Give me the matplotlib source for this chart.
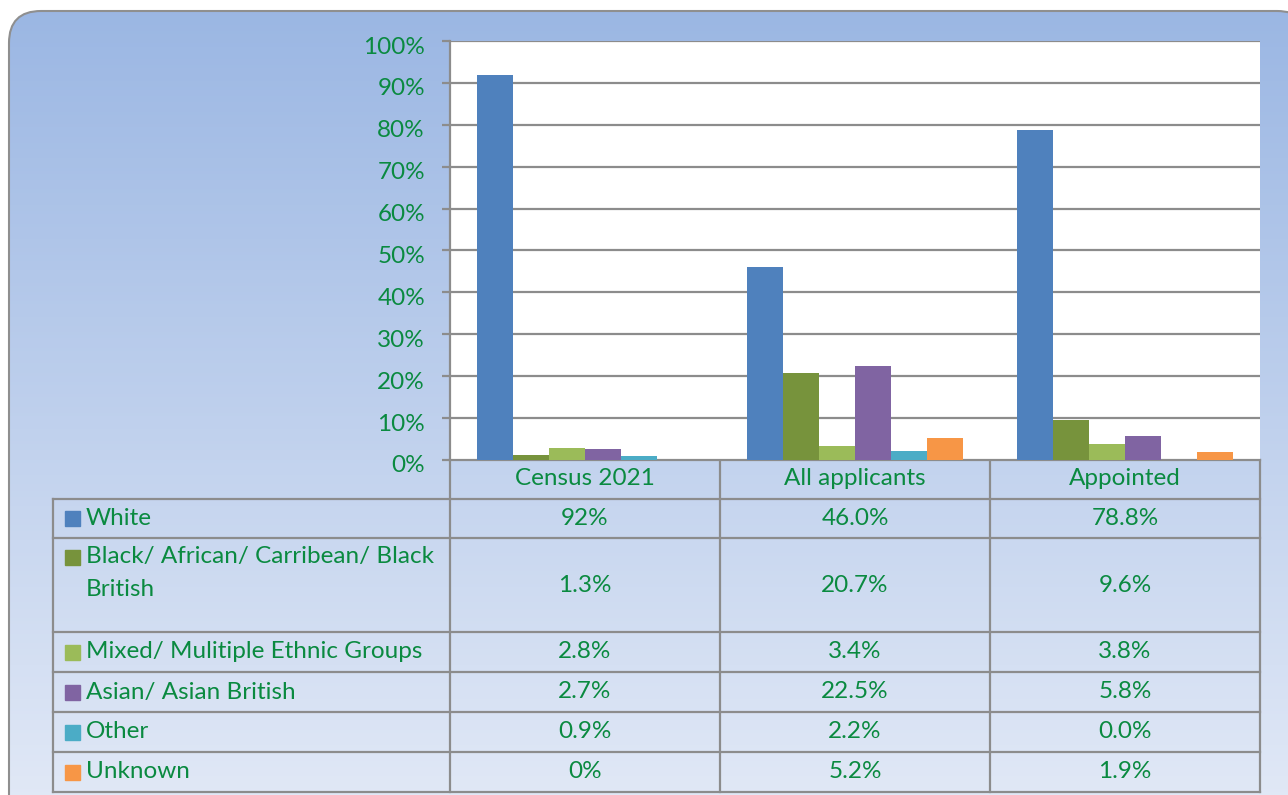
import numpy as np
import matplotlib
matplotlib.use("Agg")
from matplotlib import pyplot as plt
from matplotlib.patches import FancyBboxPatch, Rectangle
from matplotlib.ticker import FuncFormatter
from matplotlib.transforms import ScaledTranslation

plt.rcParams['font.family'] = ['Lato', 'DejaVu Sans']

groups = ['Census 2021', 'All applicants', 'Appointed']
series = ['White', 'Black/ African/ Carribean/ Black\nBritish',
          'Mixed/ Mulitiple Ethnic Groups', 'Asian/ Asian British',
          'Other', 'Unknown']
colors = ['#4F81BD', '#77933C', '#9BBB59', '#8064A2', '#4BACC6', '#F79646']

white = [92, 46.0, 78.8]
black = [1.3, 20.7, 9.6]
mixed = [2.8, 3.4, 3.8]
asian = [2.7, 22.5, 5.8]
other = [0.9, 2.2, 0.0]
unknown = [0, 5.2, 1.9]
values = [white, black, mixed, asian, other, unknown]

cell_text = [['92%', '46.0%', '78.8%'],
             ['1.3%', '20.7%', '9.6%'],
             ['2.8%', '3.4%', '3.8%'],
             ['2.7%', '22.5%', '5.8%'],
             ['0.9%', '2.2%', '0.0%'],
             ['0%', '5.2%', '1.9%']]

green = '#0A8A40'
grey = '#8C8C8C'
W, H = 1288, 795

fig = plt.figure(figsize=(W / 100, H / 100), dpi=100)

# background panel, drawn in pixel coordinates
bg = fig.add_axes([0, 0, 1, 1])
bg.set_xlim(0, W)
bg.set_ylim(H, 0)
bg.axis('off')
box = FancyBboxPatch((9, 11), 1300, 820, boxstyle='round,pad=0,rounding_size=32',
                     facecolor='none', edgecolor='#8F8F8F', linewidth=1.5, zorder=3)
bg.add_patch(box)
grad = np.linspace(0, 1, 256).reshape(-1, 1)
top = np.array([0.604, 0.714, 0.890])
bot = np.array([0.880, 0.910, 0.965])
img = top + grad[..., None] * (bot - top)
im = bg.imshow(img, extent=[0, W, H, 0], aspect='auto', zorder=1)
im.set_clip_path(box)

# data table under the bars
col_x = [53, 450, 720, 990, 1260]
row_y = [460, 499, 538, 632, 672, 712, 752, 792]
lw = 1.6
for x in col_x[1:]:
    bg.plot([x, x], [row_y[0], row_y[-1]], color=grey, lw=lw, zorder=4)
bg.plot([col_x[0], col_x[0]], [row_y[1], row_y[-1]], color=grey, lw=lw, zorder=4)
bg.plot([col_x[1], col_x[-1]], [row_y[0], row_y[0]], color=grey, lw=lw, zorder=4)
for y in row_y[1:]:
    bg.plot([col_x[0], col_x[-1]], [y, y], color=grey, lw=lw, zorder=4)

fs = 17.5
for j, g in enumerate(groups):
    bg.text((col_x[j + 1] + col_x[j + 2]) / 2, (row_y[0] + row_y[1]) / 2 - 1, g,
            color=green, fontsize=fs, ha='center', va='center', zorder=5)
for i, s in enumerate(series):
    y0, y1 = row_y[i + 1], row_y[i + 2]
    lines = s.split('\n')
    if len(lines) > 1:
        ly = y0 + 19
    else:
        ly = (y0 + y1) / 2
    bg.add_patch(Rectangle((65, ly - 7.5), 15, 15, color=colors[i], zorder=5))
    for k, line in enumerate(lines):
        bg.text(86, ly + 33 * k, line, color=green, fontsize=fs, ha='left',
                va='center', zorder=5)
    for j in range(3):
        bg.text((col_x[j + 1] + col_x[j + 2]) / 2, (y0 + y1) / 2, cell_text[i][j],
                color=green, fontsize=fs, ha='center', va='center', zorder=5)

# bar chart
ax = fig.add_axes([450 / W, (H - 460) / H, 810 / W, 419 / H])
ax.set_facecolor('white')
x = np.arange(len(groups))
bw = 0.8 / len(series)
for i, v in enumerate(values):
    ax.bar(x - 0.4 + bw * (i + 0.5), v, width=bw, color=colors[i], zorder=3)
ax.set_xlim(-0.5, 2.5)
ax.set_ylim(0, 100)
ax.set_yticks(np.arange(0, 101, 10))
ax.yaxis.set_major_formatter(FuncFormatter(lambda v, p: f'{v:.0f}%'))
ax.set_xticks([])
ax.grid(axis='y', color=grey, linewidth=lw, zorder=1)
for sp in ['top', 'right', 'bottom']:
    ax.spines[sp].set_visible(False)
ax.spines['left'].set_color(grey)
ax.spines['left'].set_linewidth(lw)
ax.tick_params(axis='y', colors=grey, labelcolor=green, labelsize=fs,
               length=6, width=lw, pad=12)
shift = ScaledTranslation(0, -4 / 100, fig.dpi_scale_trans)
for lab in ax.get_yticklabels():
    lab.set_transform(lab.get_transform() + shift)

fig.savefig('out.png', dpi=100)
